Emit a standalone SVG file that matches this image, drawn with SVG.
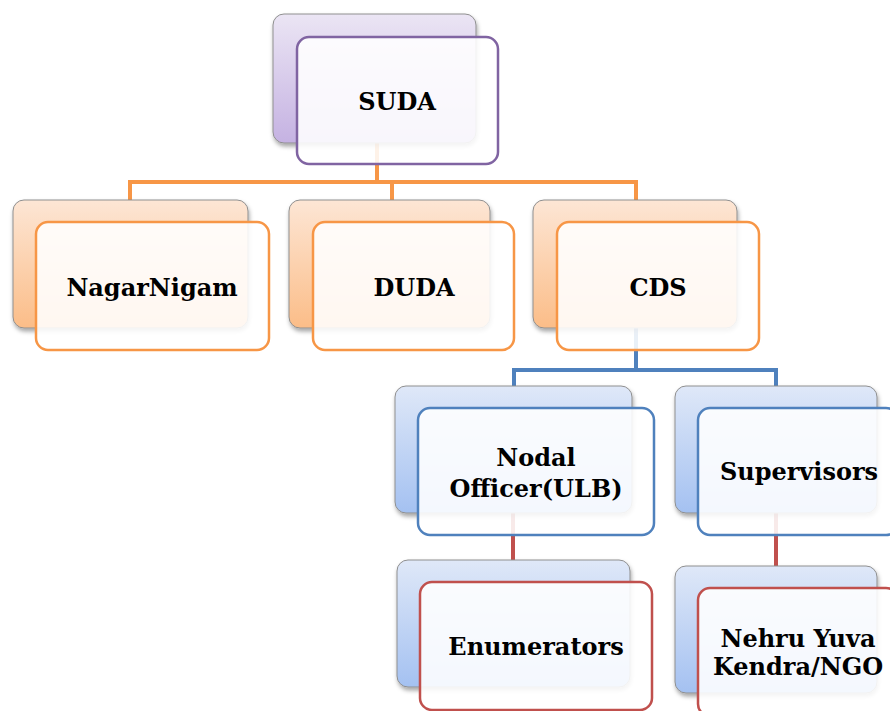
<svg xmlns="http://www.w3.org/2000/svg" width="890" height="711" viewBox="0 0 890 711">
<defs>
<linearGradient id="gP" x1="0" y1="0" x2="0" y2="1"><stop offset="0" stop-color="#ebe5f4"/><stop offset="1" stop-color="#c5b2e2"/></linearGradient>
<linearGradient id="gO" x1="0" y1="0" x2="0" y2="1"><stop offset="0" stop-color="#fde6d5"/><stop offset="1" stop-color="#fbbd88"/></linearGradient>
<linearGradient id="gB" x1="0" y1="0" x2="0" y2="1"><stop offset="0" stop-color="#dfe8f8"/><stop offset="1" stop-color="#a4c1f1"/></linearGradient>
<filter id="sh" x="-10%" y="-10%" width="125%" height="130%"><feDropShadow dx="1" dy="3" stdDeviation="2" flood-color="#000" flood-opacity="0.35"/></filter>
<style>
.back{stroke:#8f8f8f;stroke-width:1;filter:url(#sh)}
.front{fill:#ffffff;fill-opacity:0.88;stroke-width:2.5}
.t{font-family:"DejaVu Serif","Liberation Serif",serif;font-weight:bold;font-size:24px;fill:#000;text-anchor:middle}
.con{fill:none;stroke-width:4}
</style>
</defs>
<rect width="890" height="711" fill="#ffffff"/>
<g id="connectors">
<path class="con" stroke="#f79646" d="M377,143 V182 M130,200 V182 H636 V200 M392,182 V200"/>
<path class="con" stroke="#4f81bd" d="M636,328 V370 M514,386 V370 H776 V386"/>
<path class="con" stroke="#c0504d" d="M513,513 V560 M776,513 V567"/>
</g>
<g id="suda">
<rect class="back" x="273" y="14" width="203" height="129" rx="11" fill="url(#gP)"/>
<rect class="front" x="297" y="37" width="201" height="127" rx="12" stroke="#8064a2"/>
<text class="t" x="397" y="110">SUDA</text>
</g>
<g id="nagarnigam">
<rect class="back" x="13" y="200" width="235" height="128" rx="11" fill="url(#gO)"/>
<rect class="front" x="36" y="222" width="233" height="128" rx="12" stroke="#f79646"/>
<text class="t" x="152" y="296">NagarNigam</text>
</g>
<g id="duda">
<rect class="back" x="289" y="200" width="201" height="128" rx="11" fill="url(#gO)"/>
<rect class="front" x="313" y="222" width="201" height="128" rx="12" stroke="#f79646"/>
<text class="t" x="414" y="296">DUDA</text>
</g>
<g id="cds">
<rect class="back" x="533" y="200" width="204" height="128" rx="11" fill="url(#gO)"/>
<rect class="front" x="557" y="222" width="202" height="128" rx="12" stroke="#f79646"/>
<text class="t" x="658" y="296">CDS</text>
</g>
<g id="nodal">
<rect class="back" x="395" y="386" width="237" height="127" rx="11" fill="url(#gB)"/>
<rect class="front" x="418" y="408" width="236" height="127" rx="12" stroke="#4f81bd"/>
<text class="t" x="536" y="466">Nodal</text>
<text class="t" x="536" y="497">Officer(ULB)</text>
</g>
<g id="supervisors">
<rect class="back" x="675" y="386" width="202" height="127" rx="11" fill="url(#gB)"/>
<rect class="front" x="698" y="408" width="200" height="127" rx="12" stroke="#4f81bd"/>
<text class="t" x="799" y="480">Supervisors</text>
</g>
<g id="enumerators">
<rect class="back" x="397" y="560" width="233" height="127" rx="11" fill="url(#gB)"/>
<rect class="front" x="420" y="582" width="232" height="128" rx="12" stroke="#c0504d"/>
<text class="t" x="536" y="655">Enumerators</text>
</g>
<g id="nehru">
<rect class="back" x="675" y="566" width="202" height="127" rx="11" fill="url(#gB)"/>
<rect class="front" x="698" y="588" width="200" height="128" rx="12" stroke="#c0504d"/>
<text class="t" x="798" y="647">Nehru Yuva</text>
<text class="t" x="798" y="675">Kendra/NGO</text>
</g>
</svg>
